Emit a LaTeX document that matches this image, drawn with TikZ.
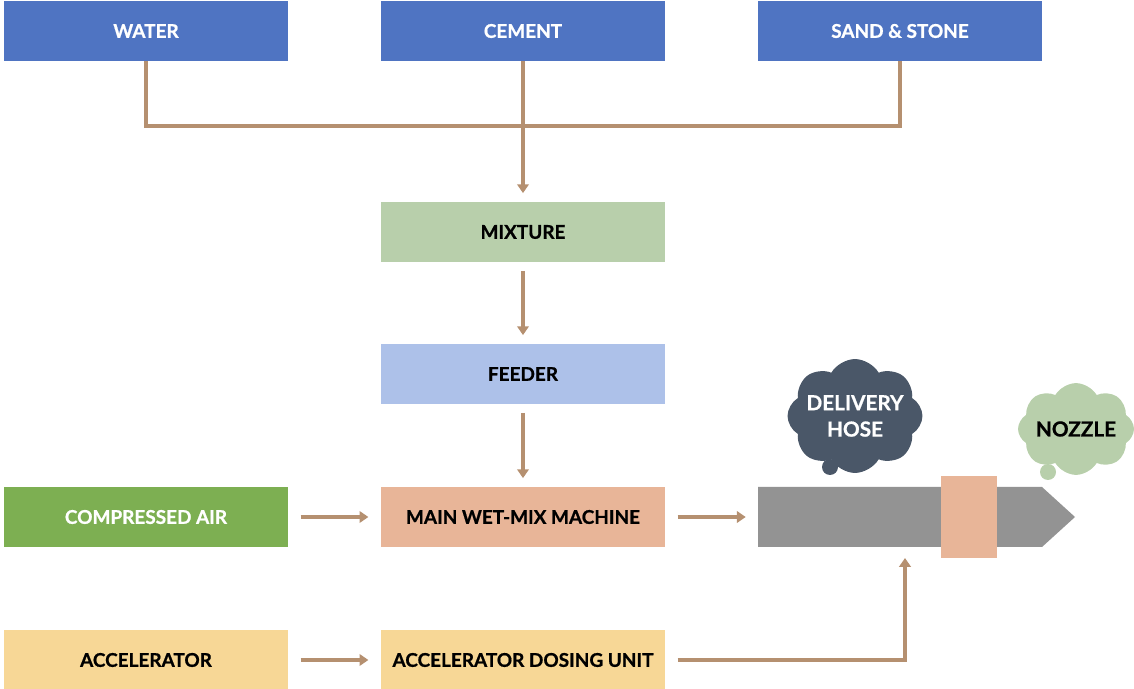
\documentclass[tikz,border=0pt]{standalone}
\usepackage{fontspec}
\setmainfont{Lato}[BoldFeatures={FakeBold=0.8}]
\usepackage{xcolor}
\usepackage{tikz}
\usetikzlibrary{arrows.meta}
\usetikzlibrary{positioning}
\usetikzlibrary{shapes.symbols}

\definecolor{topblue}{HTML}{4F74C2}
\definecolor{mixgreen}{HTML}{B8CFAB}
\definecolor{feedblue}{HTML}{ADC1E9}
\definecolor{airgreen}{HTML}{7DAF52}
\definecolor{machorange}{HTML}{E8B598}
\definecolor{accyellow}{HTML}{F7D796}
\definecolor{pipegray}{HTML}{939393}
\definecolor{hoseslate}{HTML}{4A5768}
\definecolor{linktan}{HTML}{B59070}

\begin{document}
\begin{tikzpicture}[
    x=0.02cm, y=-0.02cm,
    blk/.style={rectangle, minimum width=5.68cm, minimum height=1.19cm, inner sep=0pt,
                font=\fontsize{10.8}{13}\selectfont\bfseries},
    link/.style={draw=linktan, line width=1.8pt, -{Triangle[length=5pt, width=6.5pt]}},
    plain/.style={draw=linktan, line width=1.8pt},
    puff/.style={cloud, cloud puffs=8, cloud puff arc=120, aspect=1.3, inner sep=-3pt,
                 font=\fontsize{11.8}{14}\selectfont\bfseries, align=center}
]
\useasboundingbox (0,0) rectangle (1134,689);

% Materiales de entrada
\node[blk, fill=topblue, text=white] (water) at (146, 31) {WATER};
\node[blk, fill=topblue, text=white] (cement) at (523, 31) {CEMENT};
\node[blk, fill=topblue, text=white] (sand) at (900, 31) {SAND \& STONE};

% Columna central
\node[blk, fill=mixgreen] (mixture) at (523, 232) {MIXTURE};
\node[blk, fill=feedblue] (feeder) at (523, 374) {FEEDER};
\node[blk, fill=machorange] (machine) at (523, 517) {MAIN WET-MIX MACHINE};
\node[blk, fill=accyellow] (dosing) at (523, 660) {ACCELERATOR DOSING UNIT};

% Columna izquierda
\node[blk, fill=airgreen, text=white] (air) at (146, 517) {COMPRESSED AIR};
\node[blk, fill=accyellow] (accel) at (146, 660) {ACCELERATOR};

% Manguera y boquilla
\fill[pipegray] (758,487) -- (1042,487) -- (1075,517) -- (1042,547) -- (758,547) -- cycle;
\node[rectangle, fill=machorange, minimum width=1.12cm, minimum height=1.64cm, inner sep=0pt] (collar) at (969, 517) {};
\coordinate (pipein) at (758, 517);
\coordinate (hosein) at (905, 558);
\coordinate (bend) at (905, 660);
\coordinate (join) at (523, 126);

% Nubes
\node[puff, fill=hoseslate, text=white, minimum width=2.7cm, minimum height=2.1cm] (hose) at (855, 416) {DELIVERY\\[1pt]HOSE};
\fill[hoseslate] (830, 467) circle (8);
\node[puff, fill=mixgreen, minimum width=2.32cm, minimum height=1.8cm] (nozzle) at (1076, 429) {NOZZLE};
\fill[mixgreen] (1048, 472) circle (8);

% Conexiones
\draw[plain] (water.south) |- (join);
\draw[plain] (sand.south) |- (join);
\draw[link, shorten >=5pt] (cement.south) -- (mixture.north);
\draw[link, shorten <=5pt, shorten >=5pt] (mixture) -- (feeder);
\draw[link, shorten <=5pt, shorten >=5pt] (feeder) -- (machine);
\draw[link, shorten <=7pt, shorten >=7pt] (air) -- (machine);
\draw[link, shorten <=7pt, shorten >=7pt] (machine) -- (pipein);
\draw[link, shorten <=7pt, shorten >=7pt] (accel) -- (dosing);
\draw[link, shorten <=7pt] (dosing) -- (bend) -- (hosein);

\end{tikzpicture}
\end{document}
